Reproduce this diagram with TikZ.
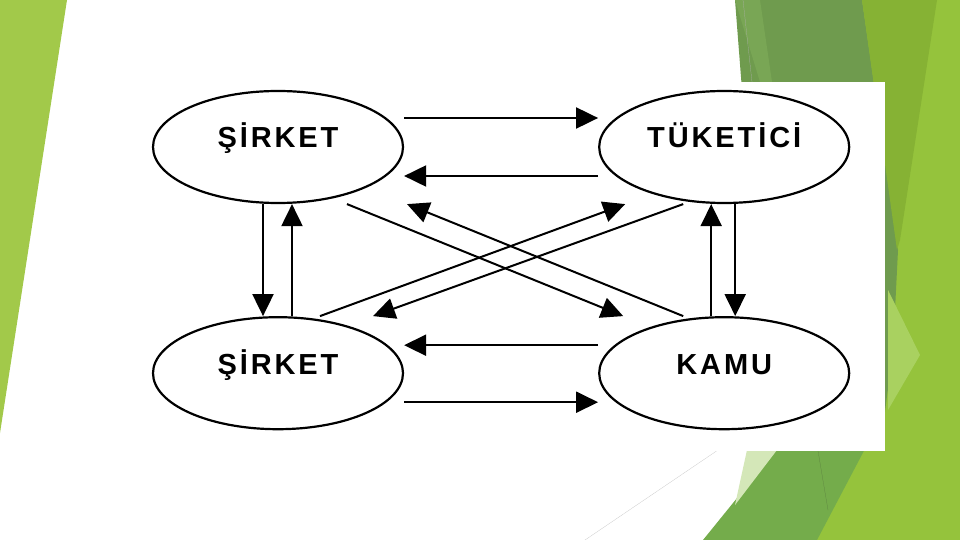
\documentclass[tikz,border=0pt]{standalone}
\usepackage{fontspec}
\newfontfamily\diafont[LetterSpace=10]{Liberation Sans}
\usetikzlibrary{arrows.meta,positioning,shapes.geometric}
\definecolor{leftgreen}{HTML}{A2C94A}
\definecolor{darkgreen}{HTML}{6F9B4E}
\definecolor{bandgreen}{HTML}{79A655}
\definecolor{midgreen}{HTML}{86B234}
\definecolor{brightgreen}{HTML}{95C33C}
\definecolor{lowgreen}{HTML}{74AC4B}
\definecolor{palegreen}{HTML}{D4E7B8}
\definecolor{facetgreen}{HTML}{A9D160}

\begin{document}
\begin{tikzpicture}[x=1pt,y=-1pt,node distance=112pt and 194pt,
   ell/.style={draw,ellipse,line width=2.2pt,minimum width=250pt,minimum height=112pt,
             inner sep=0pt,text height=22pt,text depth=20pt,
             font=\diafont\bfseries\fontsize{29}{34}\selectfont},
   arr/.style={-{Triangle[length=22pt,width=21pt]},line width=2pt}]
  \useasboundingbox (0,0) rectangle (960,540);
  \fill[white] (0,0) rectangle (960,540);
  % slide background
  \fill[leftgreen] (0,0) -- (67,0) -- (0,433) -- cycle;
  \fill[brightgreen] (860,0) -- (960,0) -- (960,540) -- (815,540) -- (880,420) -- (890,200) -- cycle;
  \fill[darkgreen] (735,0) -- (862,0) -- (898,250) -- (893,350) -- (880,450) -- (770,450) -- cycle;
  \fill[midgreen] (862,0) -- (937,0) -- (900,240) -- (897,250) -- cycle;
  \fill[bandgreen] (735,0) -- (760,0) -- (772,82) -- (760,82) -- cycle;
  \fill[facetgreen] (888,290) -- (920,355) -- (888,410) -- cycle;
  \fill[lowgreen] (703,540) -- (780,445) -- (867,445) -- (817,540) -- cycle;
  \fill[palegreen] (747,450) -- (777,450) -- (735,505) -- cycle;
  \draw[gray!60,very thin] (743,0) -- (752,82);
  \draw[gray!50,very thin] (585,540) -- (718,450);
  \draw[darkgreen!80!black,very thin] (818,451) -- (828,510);
  \fill[white] (130,82) rectangle (885,451);
  % diagram
  \node[ell] (sk1) at (278,147) {ŞİRKET};
  \node[ell,right=of sk1] (tk) {TÜKETİCİ};
  \node[ell,below=of sk1] (sk2) {ŞİRKET};
  \node[ell,below=of tk] (km) {KAMU};
  \draw[arr] ([yshift=29pt]sk1.east) -- ([yshift=29pt]tk.west);
  \draw[arr] ([yshift=-29pt]tk.west) -- ([yshift=-29pt]sk1.east);
  \draw[arr] ([yshift=28pt]km.west) -- ([yshift=28pt]sk2.east);
  \draw[arr] ([yshift=-29pt]sk2.east) -- ([yshift=-29pt]km.west);
  \draw[arr] ([xshift=-15pt]sk1.south) -- ([xshift=-15pt]sk2.north);
  \draw[arr] ([xshift=14pt]sk2.north) -- ([xshift=14pt]sk1.south);
  \draw[arr] ([xshift=-13pt]km.north) -- ([xshift=-13pt]tk.south);
  \draw[arr] ([xshift=11pt]tk.south) -- ([xshift=11pt]km.north);
  \draw[arr] ([xshift=69pt]sk1.south) -- ([xshift=-101pt]km.north);
  \draw[arr] ([xshift=-41pt]km.north) -- ([xshift=129pt]sk1.south);
  \draw[arr] ([xshift=42pt]sk2.north) -- ([xshift=-99pt]tk.south);
  \draw[arr] ([xshift=-41pt]tk.south) -- ([xshift=95pt]sk2.north);
\end{tikzpicture}
\end{document}
